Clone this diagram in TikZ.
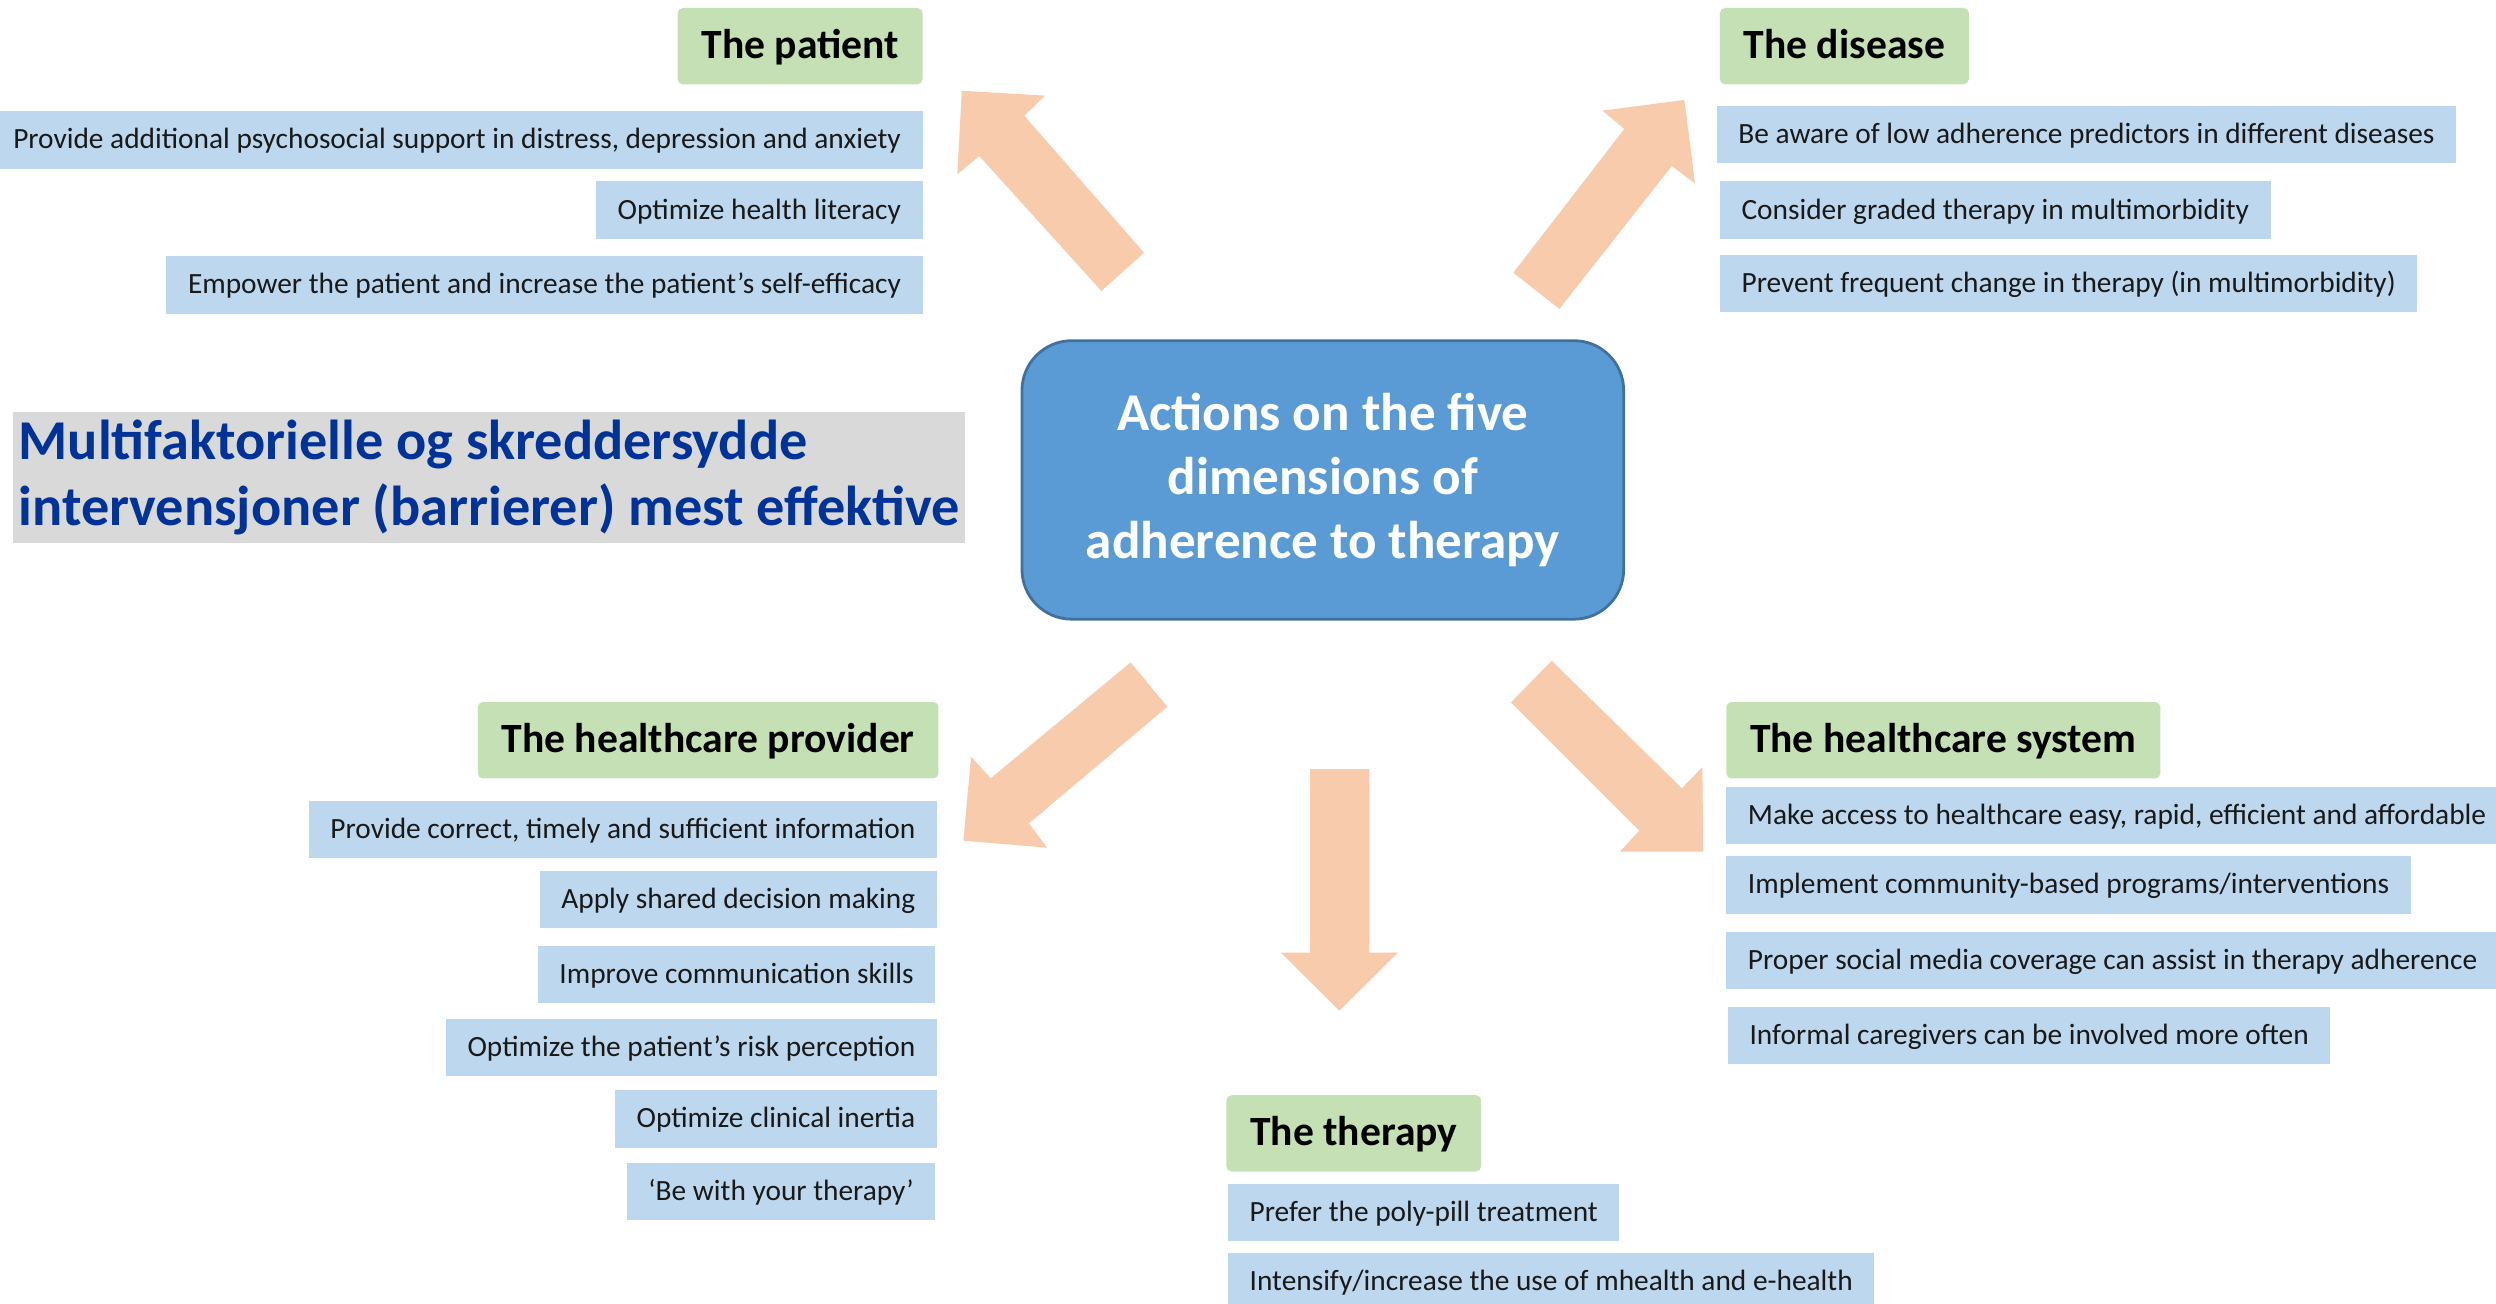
\documentclass[tikz,border=0pt]{standalone}
\usepackage{fontspec}
\setmainfont{Carlito}

\definecolor{headgreen}{HTML}{C5E0B4}
\definecolor{itemblue}{HTML}{BDD7EE}
\definecolor{corefill}{HTML}{5B9BD5}
\definecolor{coreline}{HTML}{41719C}
\definecolor{peach}{HTML}{F8CBAD}
\definecolor{notegray}{HTML}{D9D9D9}
\definecolor{noteblue}{HTML}{003399}

\tikzset{
	head/.style={fill=headgreen, rounded corners=1.5pt, minimum height=0.768cm,
		inner xsep=6.8pt, text height=9.3pt, text depth=2.4pt,
		font=\fontsize{11.9}{13}\selectfont\bfseries},
	item/.style={fill=itemblue, minimum height=0.576cm, inner xsep=6.2pt,
		text height=6.8pt, text depth=1.7pt, text=black!90,
		font=\fontsize{8.4}{10}\selectfont},
	core/.style={fill=corefill, draw=coreline, line width=0.8pt,
		rounded corners=0.5cm, minimum width=6.05cm, minimum height=2.8cm,
		text=white, align=center, font=\fontsize{15.2}{18.4}\selectfont\bfseries},
	note/.style={fill=notegray, text=noteblue, align=left, inner xsep=1.5pt,
		inner ysep=1pt, minimum height=1.31cm,
		font=\fontsize{16.1}{19.1}\selectfont\bfseries},
	blockarrow/.style={fill=peach}
}

\begin{document}
\begin{tikzpicture}[x=0.016cm, y=-0.016cm]

\path[use as bounding box, fill=white] (0,0) rectangle (1568,819);

%%%%%%%%%%%%%%%%%%%%%%%%%%%%%%%%%%%%%%%%%%

\fill [blockarrow] (604.2,57) -- (656.5,60.1) -- (643.5,72.7) -- (718.7,158.8)
	-- (691.9,182.8) -- (615.2,98) -- (601.4,109.5) -- cycle;
\fill [blockarrow] (1058.1,62.8) -- (1006.6,69.5) -- (1020.4,81) -- (950.7,171.3)
	-- (979.6,194.1) -- (1050.2,104.3) -- (1064.8,115.2) -- cycle;
\fill [blockarrow] (710.3,416.1) -- (733.3,444) -- (646.4,517.2) -- (657.7,532.5)
	-- (605.2,528.1) -- (610,475.4) -- (622.4,488.9) -- cycle;
\fill [blockarrow] (823,483.1) -- (860.2,483.1) -- (860.2,598.5) -- (878.1,598.5)
	-- (841.4,634.9) -- (804.7,598.5) -- (823,598.5) -- cycle;
\fill [blockarrow] (974.8,415.1) -- (949.2,441.2) -- (1029.8,521.8) -- (1017.7,535)
	-- (1070,535) -- (1069.4,482) -- (1056.5,495.2) -- cycle;

%%%%%%%%%%%%%%%%%%%%%%%%%%%%%%%%%%%%%%%%%%

\node [core] (core) at (831,301.5) {Actions on the five\\dimensions of\\adherence to therapy};

\node [note, anchor=west] (note) at (8,300) {Multifaktorielle og skreddersydde\\intervensjoner (barrierer) mest effektive};

%%%%%%%%%%%%%%%%%%%%%%%%%%%%%%%%%%%%%%%%%%

\node [head, anchor=east] (pat) at (580,29) {The patient};
\node [item, anchor=east] (pat1) at (580,88) {Provide additional psychosocial support in distress, depression and anxiety};
\node [item, anchor=east] (pat2) at (580,132) {Optimize health literacy};
\node [item, anchor=east] (pat3) at (580,179) {Empower the patient and increase the patient’s self-efficacy};

%%%%%%%%%%%%%%%%%%%%%%%%%%%%%%%%%%%%%%%%%%

\node [head, anchor=west] (dis) at (1080,29) {The disease};
\node [item, anchor=west] (dis1) at (1078,84.5) {Be aware of low adherence predictors in different diseases};
\node [item, anchor=west] (dis2) at (1080,132) {Consider graded therapy in multimorbidity};
\node [item, anchor=west] (dis3) at (1080,178) {Prevent frequent change in therapy (in multimorbidity)};

%%%%%%%%%%%%%%%%%%%%%%%%%%%%%%%%%%%%%%%%%%

\node [head, anchor=east] (prov) at (590,465) {The healthcare provider};
\node [item, anchor=east] (prov1) at (589,521) {Provide correct, timely and sufficient information};
\node [item, anchor=east] (prov2) at (589,565) {Apply shared decision making};
\node [item, anchor=east] (prov3) at (588,612) {Improve communication skills};
\node [item, anchor=east] (prov4) at (589,658) {Optimize the patient’s risk perception};
\node [item, anchor=east] (prov5) at (589,703) {Optimize clinical inertia};
\node [item, anchor=east] (prov6) at (588,748.5) {‘Be with your therapy’};

%%%%%%%%%%%%%%%%%%%%%%%%%%%%%%%%%%%%%%%%%%

\node [head, anchor=west] (sys) at (1084,465) {The healthcare system};
\node [item, anchor=west] (sys1) at (1084,512.5) {Make access to healthcare easy, rapid, efficient and affordable};
\node [item, anchor=west] (sys2) at (1084,556) {Implement community-based programs/interventions};
\node [item, anchor=west] (sys3) at (1084,603.5) {Proper social media coverage can assist in therapy adherence};
\node [item, anchor=west] (sys4) at (1085,650.5) {Informal caregivers can be involved more often};

%%%%%%%%%%%%%%%%%%%%%%%%%%%%%%%%%%%%%%%%%%

\node [head, anchor=west] (ther) at (770,712) {The therapy};
\node [item, anchor=west] (ther1) at (771,761.5) {Prefer the poly-pill treatment};
\node [item, anchor=west] (ther2) at (771,805) {Intensify/increase the use of mhealth and e-health};

\end{tikzpicture}
\end{document}
